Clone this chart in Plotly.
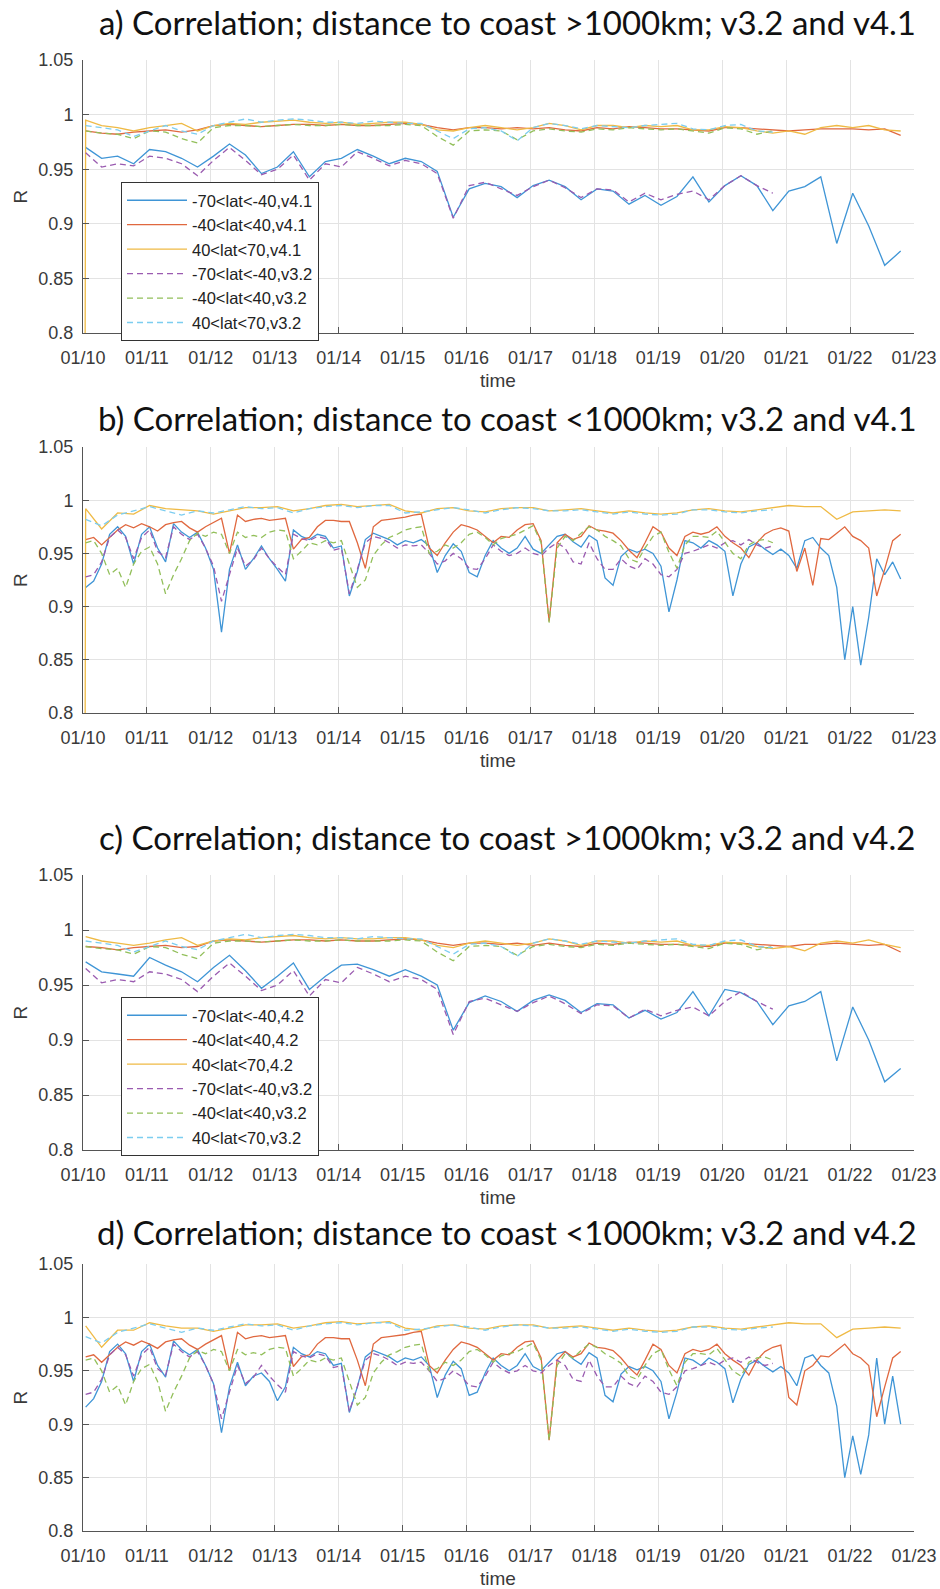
import pandas as pd
import plotly.graph_objects as go

# Correlation R between products, first record 2020-01-10 01:00.
# "new" = v4.1 / v4.2 series (run to 01/22), "old" = v3.2 series (run to 01/20).
# Open-ocean (>1000 km) series and the 40<lat<70 series are 6-hourly,
# coastal (<1000 km) -70..-40 and -40..40 series are 3-hourly.

# ---- a) distance to coast > 1000 km, v4.1 (6-hourly) ----
A_NEW_SOUTH = [0.970, 0.960, 0.962, 0.955, 0.968, 0.966, 0.960, 0.952, 0.962, 0.973, 0.963, 0.946,
               0.952, 0.966, 0.943, 0.957, 0.960, 0.968, 0.962, 0.955, 0.960, 0.957, 0.948, 0.906,
               0.932, 0.937, 0.934, 0.924, 0.935, 0.940, 0.934, 0.922, 0.932, 0.930, 0.918, 0.926,
               0.917, 0.925, 0.943, 0.920, 0.935, 0.944, 0.935, 0.912, 0.930, 0.934, 0.943, 0.882,
               0.928, 0.898, 0.862, 0.875]
A_NEW_TROP = [0.985, 0.983, 0.982, 0.984, 0.985, 0.986, 0.984, 0.986, 0.990, 0.991, 0.990, 0.989,
              0.990, 0.991, 0.991, 0.990, 0.991, 0.990, 0.990, 0.991, 0.992, 0.991, 0.988, 0.986,
              0.988, 0.988, 0.987, 0.988, 0.987, 0.988, 0.986, 0.985, 0.988, 0.987, 0.989, 0.988,
              0.987, 0.987, 0.986, 0.985, 0.988, 0.988, 0.987, 0.986, 0.985, 0.986, 0.987, 0.987,
              0.987, 0.986, 0.987, 0.981]
A_NEW_NORTH = [0.995, 0.990, 0.988, 0.985, 0.988, 0.990, 0.992, 0.985, 0.990, 0.992, 0.991, 0.993,
               0.994, 0.995, 0.993, 0.992, 0.993, 0.991, 0.992, 0.993, 0.993, 0.991, 0.986, 0.985,
               0.988, 0.990, 0.988, 0.986, 0.988, 0.992, 0.990, 0.986, 0.990, 0.990, 0.988, 0.990,
               0.989, 0.990, 0.986, 0.986, 0.989, 0.988, 0.985, 0.983, 0.985, 0.982, 0.988, 0.990,
               0.988, 0.990, 0.986, 0.985]
# ---- v3.2, distance to coast > 1000 km (panels a and c, 6-hourly) ----
OPEN_OLD_SOUTH = [0.965, 0.952, 0.955, 0.953, 0.962, 0.960, 0.955, 0.944, 0.958, 0.970, 0.958, 0.945,
                  0.950, 0.963, 0.940, 0.955, 0.952, 0.966, 0.960, 0.953, 0.958, 0.955, 0.946, 0.905,
                  0.935, 0.938, 0.932, 0.926, 0.934, 0.940, 0.933, 0.924, 0.932, 0.931, 0.920, 0.928,
                  0.922, 0.927, 0.930, 0.922, 0.935, 0.944, 0.935, 0.928]
OPEN_OLD_TROP = [0.985, 0.983, 0.982, 0.978, 0.985, 0.984, 0.978, 0.974, 0.988, 0.990, 0.990, 0.989,
                 0.990, 0.991, 0.990, 0.990, 0.991, 0.990, 0.990, 0.990, 0.991, 0.990, 0.980, 0.972,
                 0.985, 0.986, 0.985, 0.977, 0.985, 0.987, 0.985, 0.984, 0.987, 0.986, 0.988, 0.987,
                 0.986, 0.987, 0.985, 0.983, 0.988, 0.987, 0.982, 0.985]
OPEN_OLD_NORTH = [0.990, 0.988, 0.986, 0.980, 0.985, 0.990, 0.985, 0.982, 0.990, 0.993, 0.996, 0.993,
                  0.995, 0.996, 0.995, 0.993, 0.993, 0.992, 0.994, 0.993, 0.992, 0.992, 0.985, 0.978,
                  0.987, 0.988, 0.985, 0.976, 0.988, 0.992, 0.990, 0.987, 0.990, 0.989, 0.988, 0.990,
                  0.991, 0.992, 0.987, 0.986, 0.990, 0.991, 0.985, 0.984]

# ---- b) distance to coast < 1000 km, v4.1 ----
B_NEW_SOUTH = [0.918, 0.924, 0.940, 0.968, 0.975, 0.966, 0.940, 0.968, 0.975, 0.955, 0.942, 0.978,
               0.970, 0.965, 0.970, 0.955, 0.935, 0.876, 0.935, 0.958, 0.935, 0.945, 0.957, 0.945,
               0.935, 0.924, 0.972, 0.966, 0.963, 0.968, 0.966, 0.955, 0.957, 0.910, 0.933, 0.963,
               0.969, 0.966, 0.963, 0.958, 0.962, 0.960, 0.963, 0.957, 0.932, 0.948, 0.959, 0.952,
               0.932, 0.928, 0.948, 0.962, 0.955, 0.950, 0.955, 0.966, 0.954, 0.950, 0.958, 0.966,
               0.968, 0.961, 0.956, 0.967, 0.962, 0.927, 0.920, 0.947, 0.954, 0.951, 0.954, 0.950,
               0.938, 0.895, 0.925, 0.962, 0.960, 0.955, 0.962, 0.958, 0.952, 0.910, 0.940, 0.956,
               0.960, 0.954, 0.949, 0.954, 0.948, 0.936, 0.962, 0.965, 0.955, 0.948, 0.918, 0.850,
               0.900, 0.845, 0.890, 0.945, 0.930, 0.942, 0.926]
B_NEW_TROP = [0.963, 0.965, 0.958, 0.965, 0.972, 0.977, 0.974, 0.978, 0.975, 0.971, 0.977, 0.979,
              0.980, 0.974, 0.970, 0.975, 0.979, 0.983, 0.950, 0.986, 0.980, 0.982, 0.983, 0.981,
              0.982, 0.983, 0.954, 0.963, 0.965, 0.975, 0.981, 0.981, 0.980, 0.980, 0.960, 0.936,
              0.975, 0.981, 0.982, 0.983, 0.984, 0.986, 0.987, 0.955, 0.948, 0.960, 0.970, 0.977,
              0.975, 0.972, 0.966, 0.960, 0.966, 0.965, 0.972, 0.977, 0.978, 0.962, 0.886, 0.960,
              0.968, 0.963, 0.966, 0.976, 0.972, 0.971, 0.969, 0.962, 0.953, 0.946, 0.960, 0.975,
              0.970, 0.955, 0.948, 0.966, 0.970, 0.968, 0.970, 0.975, 0.966, 0.960, 0.955, 0.946,
              0.960, 0.968, 0.972, 0.974, 0.971, 0.933, 0.955, 0.920, 0.964, 0.963, 0.969, 0.975,
              0.966, 0.962, 0.955, 0.910, 0.935, 0.962, 0.968]
B_NEW_NORTH = [0.992, 0.973, 0.988, 0.987, 0.995, 0.992, 0.991, 0.990, 0.987, 0.990, 0.993, 0.993,
               0.994, 0.990, 0.992, 0.995, 0.996, 0.994, 0.995, 0.996, 0.990, 0.988, 0.992, 0.993,
               0.990, 0.989, 0.992, 0.993, 0.993, 0.990, 0.991, 0.992, 0.990, 0.988, 0.990, 0.988,
               0.987, 0.988, 0.991, 0.992, 0.990, 0.989, 0.991, 0.993, 0.995, 0.994, 0.994, 0.982,
               0.989, 0.990, 0.991, 0.990]
# ---- v3.2, distance to coast < 1000 km (panels b and d) ----
COAST_OLD_SOUTH = [0.928, 0.930, 0.942, 0.965, 0.972, 0.965, 0.945, 0.965, 0.972, 0.952, 0.946, 0.975,
                   0.968, 0.963, 0.968, 0.955, 0.938, 0.905, 0.930, 0.955, 0.938, 0.944, 0.955, 0.945,
                   0.937, 0.930, 0.968, 0.964, 0.962, 0.966, 0.964, 0.953, 0.955, 0.912, 0.935, 0.960,
                   0.966, 0.964, 0.960, 0.955, 0.958, 0.957, 0.958, 0.950, 0.940, 0.943, 0.950, 0.945,
                   0.936, 0.935, 0.945, 0.958, 0.952, 0.948, 0.950, 0.955, 0.950, 0.948, 0.955, 0.960,
                   0.955, 0.942, 0.940, 0.960, 0.945, 0.935, 0.935, 0.945, 0.938, 0.935, 0.945, 0.940,
                   0.930, 0.928, 0.935, 0.950, 0.952, 0.955, 0.958, 0.955, 0.960, 0.962, 0.958, 0.963,
                   0.958, 0.955, 0.957]
COAST_OLD_TROP = [0.960, 0.962, 0.950, 0.930, 0.936, 0.918, 0.940, 0.952, 0.956, 0.940, 0.912, 0.930,
                  0.945, 0.962, 0.969, 0.966, 0.970, 0.968, 0.950, 0.970, 0.965, 0.967, 0.965, 0.970,
                  0.972, 0.971, 0.945, 0.952, 0.960, 0.958, 0.962, 0.960, 0.962, 0.940, 0.918, 0.925,
                  0.948, 0.958, 0.965, 0.968, 0.972, 0.974, 0.975, 0.950, 0.952, 0.958, 0.955, 0.960,
                  0.968, 0.970, 0.965, 0.958, 0.964, 0.966, 0.968, 0.972, 0.976, 0.960, 0.885, 0.955,
                  0.966, 0.962, 0.969, 0.975, 0.972, 0.966, 0.962, 0.957, 0.945, 0.942, 0.955, 0.966,
                  0.970, 0.951, 0.936, 0.958, 0.966, 0.966, 0.965, 0.971, 0.960, 0.950, 0.945, 0.958,
                  0.962, 0.963, 0.960]
COAST_OLD_NORTH = [0.982, 0.976, 0.986, 0.990, 0.994, 0.990, 0.986, 0.990, 0.988, 0.991, 0.994, 0.992,
                   0.993, 0.988, 0.992, 0.994, 0.995, 0.993, 0.995, 0.995, 0.988, 0.989, 0.991, 0.993,
                   0.991, 0.988, 0.991, 0.993, 0.992, 0.990, 0.990, 0.991, 0.989, 0.987, 0.989, 0.987,
                   0.986, 0.987, 0.991, 0.991, 0.989, 0.988, 0.990, 0.991]

# ---- c) distance to coast > 1000 km, v4.2 (6-hourly) ----
C_NEW_SOUTH = [0.971, 0.962, 0.960, 0.958, 0.975, 0.968, 0.962, 0.953, 0.966, 0.977, 0.963, 0.947,
               0.958, 0.970, 0.946, 0.958, 0.968, 0.969, 0.964, 0.958, 0.964, 0.958, 0.950, 0.909,
               0.934, 0.940, 0.935, 0.926, 0.936, 0.941, 0.936, 0.925, 0.933, 0.932, 0.920, 0.927,
               0.919, 0.925, 0.944, 0.922, 0.946, 0.943, 0.935, 0.914, 0.931, 0.935, 0.944, 0.881,
               0.930, 0.900, 0.862, 0.874]
C_NEW_TROP = [0.985, 0.984, 0.982, 0.984, 0.985, 0.986, 0.984, 0.985, 0.990, 0.991, 0.990, 0.989,
              0.990, 0.991, 0.991, 0.990, 0.991, 0.990, 0.990, 0.991, 0.992, 0.991, 0.988, 0.986,
              0.988, 0.988, 0.987, 0.988, 0.986, 0.988, 0.986, 0.985, 0.988, 0.987, 0.989, 0.988,
              0.987, 0.987, 0.986, 0.985, 0.988, 0.988, 0.987, 0.986, 0.985, 0.987, 0.987, 0.988,
              0.987, 0.986, 0.987, 0.980]
C_NEW_NORTH = [0.994, 0.990, 0.988, 0.986, 0.988, 0.991, 0.993, 0.986, 0.990, 0.992, 0.991, 0.993,
               0.994, 0.995, 0.993, 0.992, 0.993, 0.992, 0.992, 0.993, 0.993, 0.991, 0.986, 0.984,
               0.988, 0.990, 0.988, 0.986, 0.988, 0.992, 0.990, 0.986, 0.990, 0.990, 0.988, 0.990,
               0.989, 0.990, 0.986, 0.986, 0.989, 0.988, 0.985, 0.983, 0.985, 0.981, 0.988, 0.990,
               0.988, 0.991, 0.987, 0.984]

# ---- d) distance to coast < 1000 km, v4.2 ----
D_NEW_SOUTH = [0.916, 0.924, 0.940, 0.968, 0.975, 0.966, 0.940, 0.968, 0.975, 0.955, 0.944, 0.978,
               0.970, 0.965, 0.970, 0.955, 0.938, 0.892, 0.935, 0.958, 0.936, 0.945, 0.948, 0.940,
               0.922, 0.935, 0.972, 0.966, 0.963, 0.968, 0.966, 0.955, 0.957, 0.911, 0.935, 0.963,
               0.969, 0.966, 0.963, 0.958, 0.962, 0.960, 0.963, 0.955, 0.925, 0.946, 0.959, 0.952,
               0.927, 0.930, 0.948, 0.962, 0.955, 0.950, 0.955, 0.966, 0.954, 0.950, 0.958, 0.966,
               0.968, 0.961, 0.956, 0.967, 0.962, 0.927, 0.921, 0.947, 0.954, 0.951, 0.954, 0.950,
               0.940, 0.905, 0.930, 0.962, 0.960, 0.955, 0.962, 0.958, 0.952, 0.920, 0.942, 0.956,
               0.960, 0.954, 0.949, 0.954, 0.948, 0.936, 0.962, 0.965, 0.955, 0.948, 0.917, 0.850,
               0.889, 0.853, 0.890, 0.962, 0.900, 0.945, 0.900]
D_NEW_TROP = [0.963, 0.965, 0.958, 0.965, 0.972, 0.977, 0.974, 0.978, 0.975, 0.971, 0.977, 0.979,
              0.980, 0.974, 0.970, 0.975, 0.979, 0.983, 0.950, 0.986, 0.980, 0.982, 0.983, 0.981,
              0.982, 0.983, 0.954, 0.963, 0.965, 0.975, 0.981, 0.981, 0.980, 0.980, 0.960, 0.936,
              0.975, 0.981, 0.982, 0.983, 0.984, 0.986, 0.987, 0.955, 0.948, 0.960, 0.970, 0.977,
              0.975, 0.972, 0.966, 0.960, 0.966, 0.965, 0.972, 0.977, 0.978, 0.962, 0.885, 0.960,
              0.968, 0.963, 0.966, 0.976, 0.972, 0.971, 0.969, 0.962, 0.953, 0.946, 0.960, 0.975,
              0.970, 0.955, 0.948, 0.966, 0.970, 0.968, 0.970, 0.975, 0.966, 0.960, 0.955, 0.946,
              0.960, 0.968, 0.972, 0.974, 0.925, 0.918, 0.950, 0.955, 0.964, 0.963, 0.969, 0.975,
              0.966, 0.962, 0.955, 0.907, 0.935, 0.962, 0.968]
D_NEW_NORTH = [0.992, 0.972, 0.988, 0.988, 0.995, 0.992, 0.990, 0.990, 0.987, 0.990, 0.993, 0.993,
               0.994, 0.990, 0.992, 0.995, 0.996, 0.994, 0.995, 0.996, 0.990, 0.988, 0.992, 0.993,
               0.990, 0.989, 0.992, 0.993, 0.993, 0.990, 0.991, 0.992, 0.990, 0.988, 0.990, 0.988,
               0.987, 0.988, 0.991, 0.992, 0.990, 0.989, 0.991, 0.993, 0.995, 0.994, 0.994, 0.981,
               0.989, 0.990, 0.991, 0.990]

# unfilled opening record (R = 0) of the 40<lat<70 v4.1 series, at 2020-01-10 00:00
OPENING_RECORD = 0.0

FIRST_RECORD = "2020-01-10 01:00"

BANDS = ["-70&lt;lat&lt;-40", "-40&lt;lat&lt;40", "40&lt;lat&lt;70"]
TITLES = [
    "a) Correlation; distance to coast &gt;1000km; v3.2 and v4.1",
    "b) Correlation; distance to coast &lt;1000km; v3.2 and v4.1",
    "c) Correlation; distance to coast &gt;1000km; v3.2 and v4.2",
    "d) Correlation; distance to coast &lt;1000km; v3.2 and v4.2",
]
Y_TICKS = [0.8, 0.85, 0.9, 0.95, 1.0, 1.05]
Y_TICK_TEXT = ["0.8", "0.85", "0.9", "0.95", "1", "1.05"]

OPEN_STEPS = ["6h", "6h", "6h"]
COAST_STEPS = ["3h", "3h", "6h"]
PANELS = [
    dict(new=[A_NEW_SOUTH, A_NEW_TROP, A_NEW_NORTH], old=[OPEN_OLD_SOUTH, OPEN_OLD_TROP, OPEN_OLD_NORTH],
         steps=OPEN_STEPS, new_tag="v4.1", opening=True, legend="legend"),
    dict(new=[B_NEW_SOUTH, B_NEW_TROP, B_NEW_NORTH], old=[COAST_OLD_SOUTH, COAST_OLD_TROP, COAST_OLD_NORTH],
         steps=COAST_STEPS, new_tag="v4.1", opening=True, legend=None),
    dict(new=[C_NEW_SOUTH, C_NEW_TROP, C_NEW_NORTH], old=[OPEN_OLD_SOUTH, OPEN_OLD_TROP, OPEN_OLD_NORTH],
         steps=OPEN_STEPS, new_tag="4.2", opening=False, legend="legend2"),
    dict(new=[D_NEW_SOUTH, D_NEW_TROP, D_NEW_NORTH], old=[COAST_OLD_SOUTH, COAST_OLD_TROP, COAST_OLD_NORTH],
         steps=COAST_STEPS, new_tag="4.2", opening=False, legend=None),
]

# MATLAB-style line colours (new series solid, old series dashed)
NEW_COLORS = ["#3F95D6", "#E0683F", "#EFBA45"]
OLD_COLORS = ["#9A5BB0", "#92BF5A", "#7CCDF0"]

# page geometry (pixels)
W, H = 940, 1589
PLOT_X = (83, 914)
PANEL_Y = [(60, 333), (447, 713), (875, 1150), (1264, 1531)]
TITLE_Y = [22, 418, 837, 1232]
LEGEND_TOP = {"legend": 182, "legend2": 997}
LEGEND_LEFT = 121

TICK_FONT = dict(family="Liberation Sans, Arial, sans-serif", size=18, color="#3a3a3a")
AXIS_COLOR = "#555555"
GRID_COLOR = "#e3e3e3"


def py(px):
    return 1 - px / H


def record_times(values, step):
    return list(pd.date_range(FIRST_RECORD, periods=len(values), freq=step))


fig = go.Figure()

for i, panel in enumerate(PANELS):
    n = i + 1
    xa = "x" if n == 1 else f"x{n}"
    ya = "y" if n == 1 else f"y{n}"
    show = panel["legend"] is not None
    for k in range(3):
        ys = list(panel["new"][k])
        xs = record_times(ys, panel["steps"][k])
        if panel["opening"] and k == 2:
            xs = [pd.Timestamp("2020-01-10 00:00")] + xs
            ys = [OPENING_RECORD] + ys
        fig.add_trace(go.Scatter(
            x=xs, y=ys, mode="lines", xaxis=xa, yaxis=ya,
            name=f"{BANDS[k]},{panel['new_tag']}", showlegend=show,
            legend=panel["legend"] or "legend",
            line=dict(color=NEW_COLORS[k], width=1.3)))
    for k in range(3):
        ys = list(panel["old"][k])
        fig.add_trace(go.Scatter(
            x=record_times(ys, panel["steps"][k]), y=ys, mode="lines", xaxis=xa, yaxis=ya,
            name=f"{BANDS[k]},v3.2", showlegend=show,
            legend=panel["legend"] or "legend",
            line=dict(color=OLD_COLORS[k], width=1.3, dash="6px,4px")))

    top, bottom = PANEL_Y[i]
    xkey = "xaxis" if n == 1 else f"xaxis{n}"
    ykey = "yaxis" if n == 1 else f"yaxis{n}"
    fig.layout[xkey] = dict(
        domain=[PLOT_X[0] / W, PLOT_X[1] / W], anchor=ya, type="date",
        range=["2020-01-10 00:00", "2020-01-23 00:00"],
        tick0="2020-01-10", dtick=86400000, tickformat="%m/%d",
        ticks="inside", ticklen=6, tickcolor=AXIS_COLOR, ticklabelstandoff=8,
        showline=True, linecolor=AXIS_COLOR, linewidth=1,
        showgrid=True, gridcolor=GRID_COLOR, gridwidth=1,
        zeroline=False, tickfont=TICK_FONT, fixedrange=True, automargin=False)
    fig.layout[ykey] = dict(
        domain=[py(bottom), py(top)], anchor=xa, range=[0.8, 1.05],
        tickvals=Y_TICKS, ticktext=Y_TICK_TEXT,
        ticks="inside", ticklen=6, tickcolor=AXIS_COLOR, ticklabelstandoff=5,
        showline=True, linecolor=AXIS_COLOR, linewidth=1,
        showgrid=True, gridcolor=GRID_COLOR, gridwidth=1,
        zeroline=False, tickfont=TICK_FONT, fixedrange=True, automargin=False)

    # panel title
    fig.add_annotation(text=TITLES[i], xref="paper", yref="paper",
                       x=507 / W, y=py(TITLE_Y[i]), xanchor="center", yanchor="middle",
                       showarrow=False, borderpad=0,
                       font=dict(family="Lato, 'Open Sans', sans-serif", size=33, color="#111111"))
    # axis labels
    fig.add_annotation(text="time", xref="paper", yref="paper",
                       x=(PLOT_X[0] + PLOT_X[1]) / 2 / W, y=py(bottom + 47),
                       xanchor="center", yanchor="middle", showarrow=False,
                       font=dict(family="Liberation Sans, Arial, sans-serif", size=19, color="#3a3a3a"))
    fig.add_annotation(text="R", xref="paper", yref="paper",
                       x=20 / W, y=py((top + bottom) / 2), textangle=-90,
                       xanchor="center", yanchor="middle", showarrow=False,
                       font=dict(family="Liberation Sans, Arial, sans-serif", size=19, color="#3a3a3a"))

legend_style = dict(
    xanchor="left", yanchor="top", bgcolor="white",
    bordercolor="#333333", borderwidth=1, itemwidth=60, tracegroupgap=0,
    font=dict(family="Liberation Sans, Arial, sans-serif", size=16.5, color="#222222"))
fig.update_layout(
    legend=dict(x=LEGEND_LEFT / W, y=py(LEGEND_TOP["legend"]), **legend_style),
    legend2=dict(x=LEGEND_LEFT / W, y=py(LEGEND_TOP["legend2"]), **legend_style),
    width=W, height=H, margin=dict(l=0, r=0, t=0, b=0, autoexpand=False),
    paper_bgcolor="white", plot_bgcolor="white", showlegend=True)

fig.write_html("out.html")
